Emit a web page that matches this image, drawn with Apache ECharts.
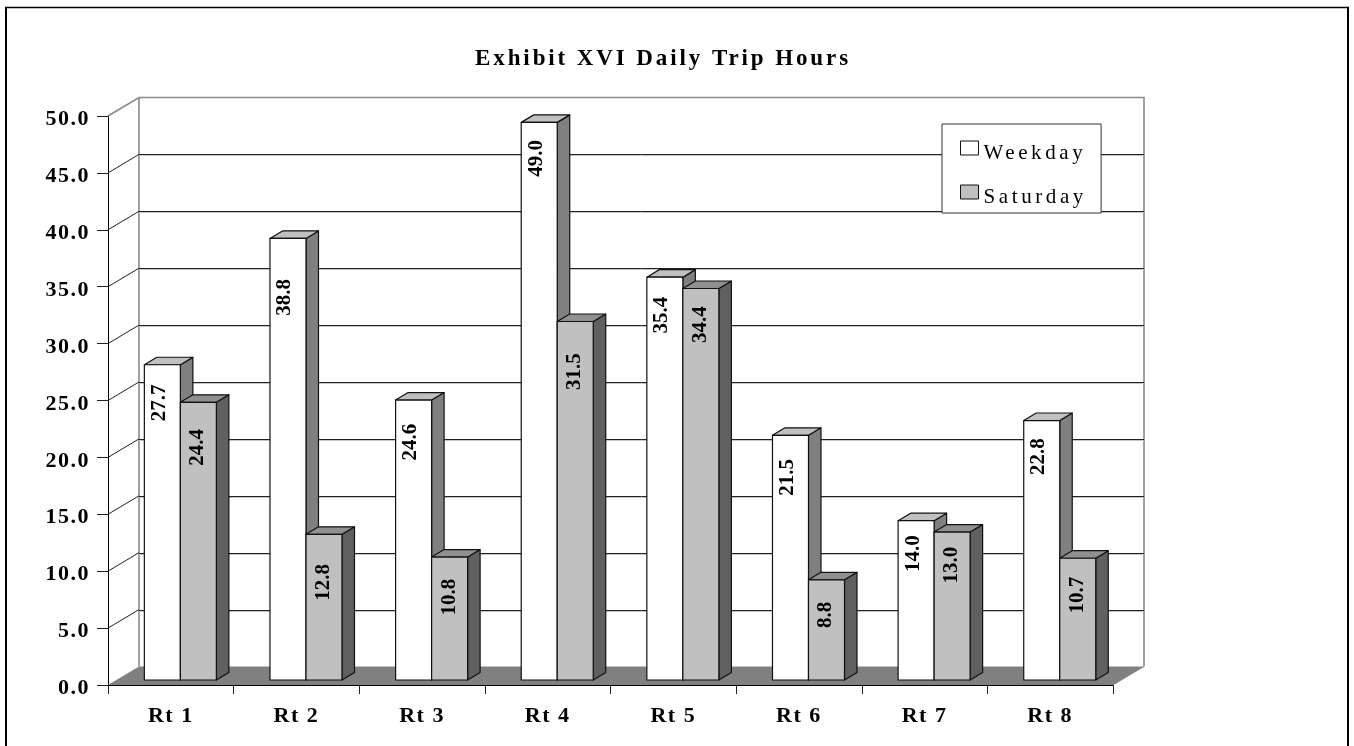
<!DOCTYPE html>
<html><head><meta charset="utf-8">
<style>html,body{margin:0;padding:0;background:#fff}#c{width:1354px;height:746px}</style>
<script src="https://cdn.jsdelivr.net/npm/echarts@6/dist/echarts.min.js"></script>
</head><body><div id="c"></div>
<script>
const categories = ['Rt 1','Rt 2','Rt 3','Rt 4','Rt 5','Rt 6','Rt 7','Rt 8'];
const weekday = [27.7,38.8,24.6,49.0,35.4,21.5,14.0,22.8];
const saturday = [24.4,12.8,10.8,31.5,34.4,8.8,13.0,10.7];
const yTicks = [5,10,15,20,25,30,35,40,45];
const titleText = 'Exhibit XVI Daily Trip Hours';

// layout tuning (not data): distance of each value label below its bar top
const weekdayLabelDrop = [38,59,42,36,38,42,33,36];
const saturdayLabelDrop = [45,48,40,50,36,35,33,37];

// Text in the reference is letter-spaced; keyed by weight and font size
const spacing = {'b23':'2.9px','b22':'1.5px','n21':'3.6px'};
const origFill = CanvasRenderingContext2D.prototype.fillText;
CanvasRenderingContext2D.prototype.fillText = function(t,x,y,w){
  const m = /(\d+)px/.exec(this.font);
  const key = (/bold/.test(this.font)?'b':'n') + (m?m[1]:'');
  this.letterSpacing = spacing[key] || '0px';
  return w===undefined ? origFill.call(this,t,x,y) : origFill.call(this,t,x,y,w);
};

const SERIF = '"Liberation Serif","Times New Roman",serif';
const DEPTH_X = 0.2468, DEPTH_Y = 1.626;   // wall depth: bands, value units
const BAR_W = 0.2866, BAR_SHIFT = 0.076, BAR_DEPTH_X = 0.0995, BAR_LIFT = 0.44, BAR_DEPTH_Y = 0.66;

function crisp(v){ return Math.round(v)+0.5; }

function wallItem(params, api){
  const band = api.size([1,0])[0], unit = api.size([0,1])[1];
  const dx = band*DEPTH_X, dy = unit*DEPTH_Y;
  const l = api.coord([0,0])[0]-band/2, r = api.coord([categories.length-1,0])[0]+band/2;
  const b = api.coord([0,0])[1], t = api.coord([0,50])[1];
  const gray = {stroke:'#8a8a8a',lineWidth:1.6,fill:null};
  return {type:'group',children:[
    {type:'polygon',shape:{points:[[l,b],[l+dx,b-dy],[r+dx,b-dy],[r,b]]},style:{fill:'#808080'}},
    {type:'polyline',shape:{points:[[l,t],[l+dx,t-dy],[r+dx,t-dy],[r+dx,b-dy]]},style:gray},
    {type:'line',shape:{x1:l+dx,y1:t-dy,x2:l+dx,y2:b-dy},style:gray},
    {type:'line',shape:{x1:r+dx,y1:b-dy,x2:r,y2:b},style:{stroke:'#8a8a8a',lineWidth:1}}
  ]};
}
function gridItem(params, api){
  const v = api.value(0);
  const band = api.size([1,0])[0], unit = api.size([0,1])[1];
  const dx = band*DEPTH_X, dy = unit*DEPTH_Y;
  const l = api.coord([0,v])[0]-band/2, r = api.coord([categories.length-1,v])[0]+band/2, y = api.coord([0,v])[1];
  const yb = crisp(y-dy);
  return {type:'group',children:[
    {type:'line',shape:{x1:l,y1:y,x2:l+dx,y2:y-dy},style:{stroke:'#222',lineWidth:1}},
    {type:'line',shape:{x1:l+dx,y1:yb,x2:r+dx,y2:yb},style:{stroke:'#222',lineWidth:1}},
    {type:'line',shape:{x1:l+dx,y1:yb+1,x2:r+dx,y2:yb+1},style:{stroke:'#c4c4c4',lineWidth:1}}
  ]};
}
function barRenderer(side, front, top, right, drops){
  return function(params, api){
    const i = api.value(0), v = api.value(1);
    const band = api.size([1,0])[0], unit = api.size([0,1])[1];
    const w = band*BAR_W, c = api.coord([i,0])[0]+band*BAR_SHIFT;
    const x0 = side===0 ? c-w : c, x1 = x0+w;
    const lift = unit*BAR_LIFT;
    const yb = api.coord([i,0])[1]-lift, yt = api.coord([i,v])[1]-lift;
    const dx = band*BAR_DEPTH_X, dy = unit*BAR_DEPTH_Y;
    const edge = {stroke:'#111',lineWidth:1.2,lineJoin:'round'};
    return {type:'group',children:[
      {type:'polygon',shape:{points:[[x1,yt],[x1+dx,yt-dy],[x1+dx,yb-dy],[x1,yb]]},style:{fill:right,...edge}},
      {type:'polygon',shape:{points:[[x0,yt],[x0+dx,yt-dy],[x1+dx,yt-dy],[x1,yt]]},style:{fill:top,...edge}},
      {type:'rect',shape:{x:x0,y:yt,width:w,height:yb-yt},style:{fill:front,...edge}},
      {type:'text',x:(x0+x1)/2+(side===0?-3:-0.5),y:yt+drops[i],rotation:Math.PI/2,
       style:{text:v.toFixed(1),align:'center',verticalAlign:'middle',fill:'#000',font:'bold 21px '+SERIF}}
    ]};
  };
}
const chart = echarts.init(document.getElementById('c'),null,{renderer:'canvas'});
chart.setOption({
  animation:false,
  backgroundColor:'#fff',
  title:{text:titleText,left:658,top:43,textAlign:'center',
    textStyle:{fontFamily:SERIF,fontWeight:'bold',fontSize:23,color:'#000'}},
  graphic:[
    {type:'line',shape:{x1:6,y1:746,x2:6,y2:7},style:{stroke:'#000',lineWidth:2},silent:true},
    {type:'line',shape:{x1:5,y1:7.5,x2:1349,y2:7.5},style:{stroke:'#000',lineWidth:1.5},silent:true},
    {type:'rect',shape:{x:1347,y:7,width:2,height:739},style:{fill:'#000'},silent:true}],
  legend:{orient:'vertical',left:942,top:124,padding:[8.5,40,5.5,18],itemWidth:18,itemHeight:14,itemGap:13,
    backgroundColor:'#fff',borderColor:'#333',borderWidth:1,
    formatter:n=>'{a|'+n+'}',
    textStyle:{rich:{a:{fontFamily:SERIF,fontSize:21,color:'#000',lineHeight:21,padding:[10,0,0,0]}}},
    data:[{name:'Weekday',icon:'rect',itemStyle:{color:'#fff',borderColor:'#111',borderWidth:1}},
          {name:'Saturday',icon:'rect',itemStyle:{color:'#c0c0c0',borderColor:'#111',borderWidth:1}}]},
  grid:{left:108,top:116,width:1005,height:569,containLabel:false},
  xAxis:{type:'category',data:categories,axisLine:{onZero:false,lineStyle:{color:'#000',width:1}},
    axisTick:{show:true,alignWithLabel:false,length:9,lineStyle:{color:'#222'}},
    axisLabel:{margin:20,color:'#000',fontFamily:SERIF,fontWeight:'bold',fontSize:22},splitLine:{show:false}},
  yAxis:{type:'value',min:0,max:50,interval:5,axisLine:{show:true,lineStyle:{color:'#000',width:1}},
    axisTick:{show:true,length:11,lineStyle:{color:'#222'}},
    axisLabel:{margin:18,formatter:v=>'{a|'+v.toFixed(1)+'}',
      rich:{a:{color:'#000',fontFamily:SERIF,fontWeight:'bold',fontSize:22,lineHeight:22,padding:[7,0,0,0]}}},
    splitLine:{show:false}},
  series:[
    {type:'custom',name:'wall',silent:true,z:1,data:[[0]],renderItem:wallItem,encode:{x:-1,y:-1},clip:false},
    {type:'custom',name:'grid',silent:true,z:2,data:yTicks.map(v=>[v]),renderItem:gridItem,encode:{x:-1,y:-1},clip:false},
    {type:'custom',name:'Weekday',z:3,itemStyle:{color:'#fff'},clip:false,
      data:weekday.map((v,i)=>[i,v]),encode:{x:0,y:1},renderItem:barRenderer(0,'#fff','#c0c0c0','#808080',weekdayLabelDrop)},
    {type:'custom',name:'Saturday',z:4,itemStyle:{color:'#c0c0c0'},clip:false,
      data:saturday.map((v,i)=>[i,v]),encode:{x:0,y:1},renderItem:barRenderer(1,'#c0c0c0','#909090','#606060',saturdayLabelDrop)}
  ]
});
</script></body></html>
